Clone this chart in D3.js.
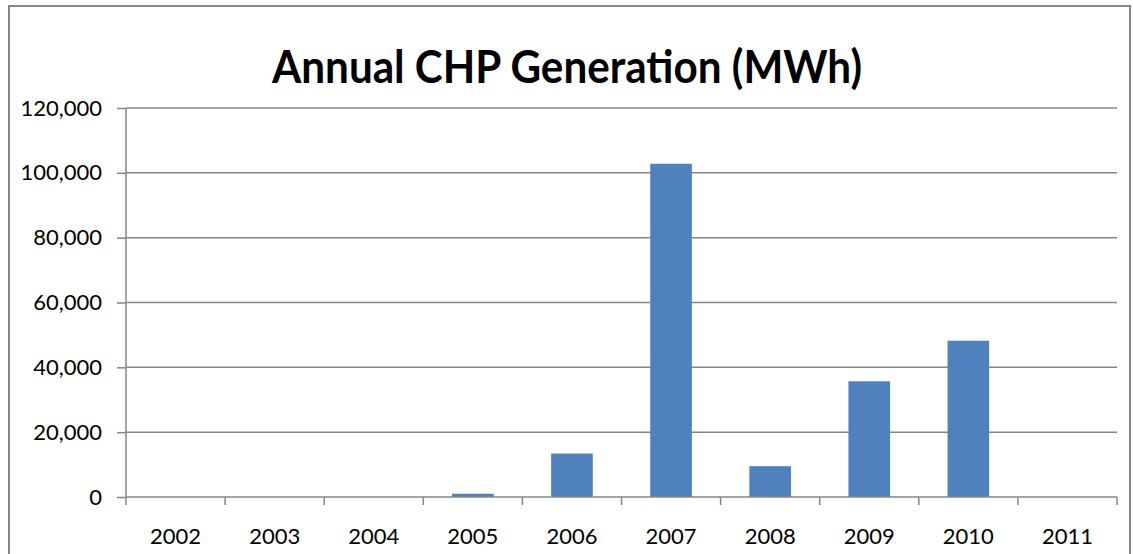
<!DOCTYPE html>
<meta charset="utf-8">
<style>
html, body {
  margin: 0;
  background: #fff;
}
text {
  font-family: Lato, "Open Sans", sans-serif;
  fill: #000;
}
.grid line {
  stroke: #868686;
  stroke-width: 1.5px;
}
</style>
<svg></svg>
<script src="https://d3js.org/d3.v7.min.js"></script>
<script>

// chart data
var years = ['2002', '2003', '2004', '2005', '2006', '2007', '2008', '2009', '2010', '2011'];
var generation = [0, 0, 0, 1000, 13400, 102800, 9500, 35700, 48200, 0];
var yTicks = [0, 20000, 40000, 60000, 80000, 100000, 120000];
var title = 'Annual CHP Generation (MWh)';

var W = 1133, H = 554;
var plot = {left: 126, right: 1117, top: 108, bottom: 497};

var svg = d3.select('svg')
  .attr('width', W)
  .attr('height', H);

// outer chart border
svg.append('rect')
  .attr('x', 9).attr('y', 6)
  .attr('width', 1121).attr('height', 560)
  .attr('fill', 'none')
  .attr('stroke', '#868686')
  .attr('stroke-width', 2);

var x = d3.scaleBand()
  .domain(years)
  .range([plot.left, plot.right])
  .paddingInner(0.58)
  .paddingOuter(0.29);

var y = d3.scaleLinear()
  .domain([0, 120000])
  .range([plot.bottom, plot.top]);

// gridlines
svg.append('g')
  .attr('class', 'grid')
  .selectAll('line').data(yTicks.slice(1))
  .enter().append('line')
  .attr('x1', plot.left).attr('x2', plot.right)
  .attr('y1', function (d) { return y(d); })
  .attr('y2', function (d) { return y(d); });

// bars
svg.append('g')
  .selectAll('rect').data(years)
  .enter().append('rect')
  .attr('x', function (d) { return x(d); })
  .attr('width', x.bandwidth())
  .attr('y', function (d, i) { return y(generation[i]); })
  .attr('height', function (d, i) { return y(0) - y(generation[i]); })
  .attr('fill', '#4F81BD');

// y axis
var yAxis = svg.append('g')
  .attr('transform', 'translate(' + plot.left + ',0)')
  .call(d3.axisLeft(y).tickValues(yTicks).tickSize(9).tickPadding(15)
    .tickFormat(d3.format(',')));
yAxis.selectAll('line, path').attr('stroke', '#868686').attr('stroke-width', 1.5);
yAxis.select('.domain').attr('d', 'M0,' + plot.bottom + 'V' + plot.top);
yAxis.selectAll('text').attr('font-size', 22).style('font-family', 'Lato, sans-serif').attr('fill', '#000');

// x axis, ticks at category boundaries
var step = x.step();
var xAxis = svg.append('g')
  .attr('transform', 'translate(0,' + plot.bottom + ')');
xAxis.append('line')
  .attr('x1', plot.left).attr('x2', plot.right)
  .attr('stroke', '#868686').attr('stroke-width', 1.5);
xAxis.selectAll('line.tick').data(d3.range(years.length + 1))
  .enter().append('line')
  .attr('class', 'tick')
  .attr('x1', function (i) { return plot.left + i * step; })
  .attr('x2', function (i) { return plot.left + i * step; })
  .attr('y1', 0).attr('y2', 8)
  .attr('stroke', '#868686').attr('stroke-width', 1.5);
xAxis.selectAll('text').data(years)
  .enter().append('text')
  .attr('x', function (d) { return x(d) + x.bandwidth() / 2; })
  .attr('y', 47)
  .attr('text-anchor', 'middle')
  .attr('font-size', 22)
  .text(function (d) { return d; });

// title
svg.append('text')
  .attr('x', 567)
  .attr('y', 83)
  .attr('text-anchor', 'middle')
  .attr('font-size', 46)
  .attr('font-weight', 'bold')
  .attr('textLength', 590)
  .attr('lengthAdjust', 'spacingAndGlyphs')
  .text(title);

</script>
